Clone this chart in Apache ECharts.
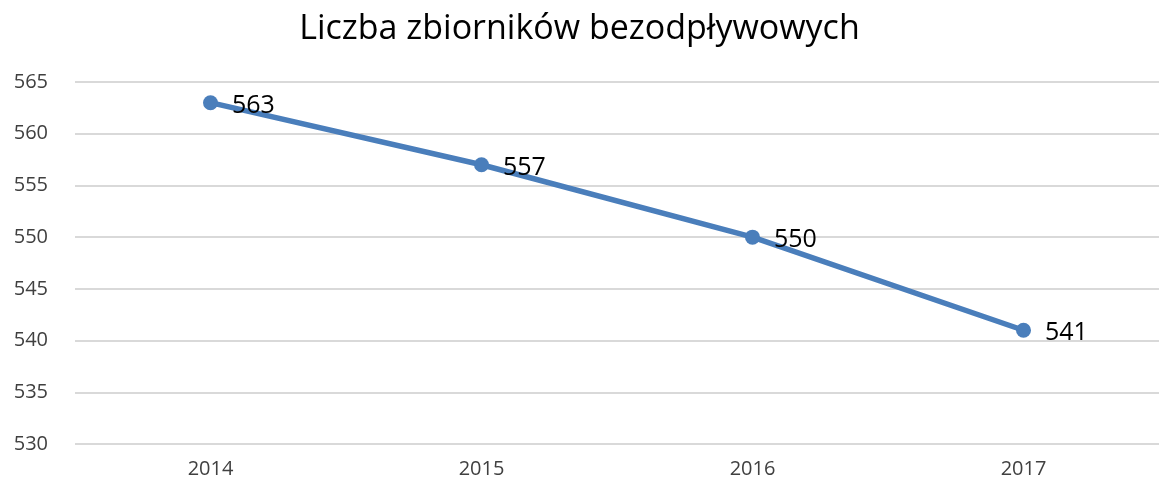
<!DOCTYPE html>
<html>
<head>
<meta charset="utf-8">
<script src="https://cdn.jsdelivr.net/npm/echarts@6/dist/echarts.min.js"></script>
<style>html,body{margin:0;padding:0;background:#fff;}#c{width:1159px;height:492px;}</style>
</head>
<body>
<div id="c"></div>
<script>
const titleText = 'Liczba zbiorników bezodpływowych';
const categories = ['2014', '2015', '2016', '2017'];
const values = [563, 557, 550, 541];
const yMin = 530, yMax = 565, yStep = 5;

const chart = echarts.init(document.getElementById('c'));
chart.setOption({
  animation: false,
  backgroundColor: '#ffffff',
  title: {
    text: titleText,
    left: 'center',
    top: 7,
    textStyle: {fontFamily: 'Open Sans', fontSize: 34, fontWeight: 'normal', color: '#000000'}
  },
  grid: {left: 75, top: 82, width: 1095, bottom: 48, containLabel: false},
  xAxis: {
    type: 'category',
    data: categories,
    boundaryGap: true,
    axisLine: {show: false},
    axisTick: {show: false},
    axisLabel: {fontFamily: 'Open Sans', fontSize: 20, color: '#404040', margin: 15}
  },
  yAxis: {
    type: 'value',
    min: yMin, max: yMax, interval: yStep,
    axisLine: {show: false},
    axisTick: {show: false},
    splitLine: {lineStyle: {color: '#d9d9d9', width: 2}},
    axisLabel: {fontFamily: 'Open Sans', fontSize: 20, color: '#404040', margin: 27}
  },
  series: [{
    type: 'line',
    data: values,
    symbol: 'circle',
    symbolSize: 15,
    lineStyle: {color: '#4a7ebb', width: 5.5},
    itemStyle: {color: '#4a7ebb'},
    label: {
      show: true,
      position: 'right',
      distance: 14,
      offset: [0, 3],
      fontFamily: 'Open Sans',
      fontSize: 25,
      color: '#000000'
    }
  }]
});
</script>
</body>
</html>
